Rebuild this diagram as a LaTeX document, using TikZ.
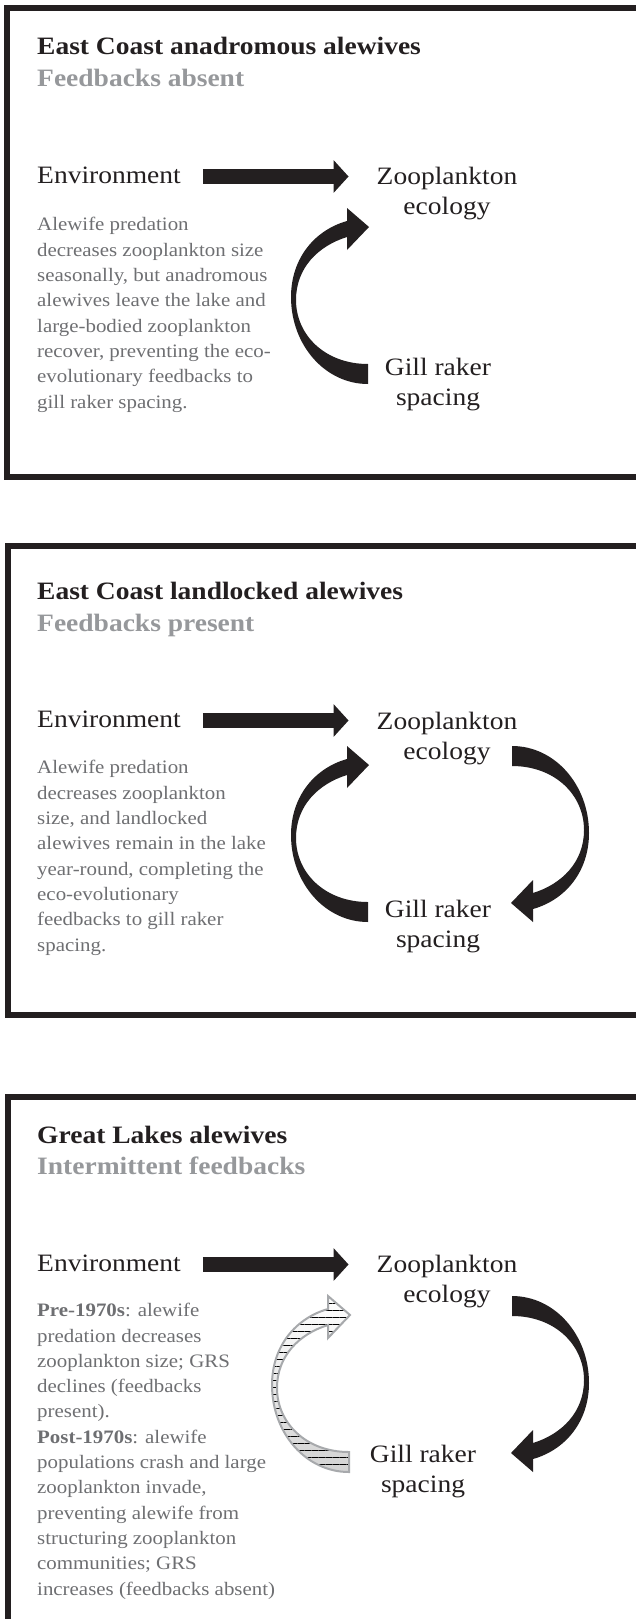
\documentclass[tikz,border=0pt]{standalone}
\usepackage{fontspec}
\setmainfont{Liberation Serif}[FakeStretch=1.1]
\usetikzlibrary{arrows.meta,patterns.meta}
\definecolor{inkblack}{RGB}{35,31,32}
\definecolor{subgray}{RGB}{150,152,155}
\definecolor{notegray}{RGB}{110,111,114}
\definecolor{rimgray}{RGB}{167,169,172}
\newcommand{\bigsz}{\fontsize{25}{30}\selectfont}
\newcommand{\notesz}{\fontsize{19}{25.3}\selectfont}
% bent block arrow, given round its own centre
\newcommand{\bentarrow}{(-72,88) .. controls (-115,88) and (-149,49) .. (-149,1)
  .. controls (-149,-38) and (-125,-66) .. (-93,-75) -- (-93,-88) -- (-71,-69)
  -- (-93,-46) -- (-93,-59) .. controls (-122,-50) and (-144,-28) .. (-144,4)
  .. controls (-144,39) and (-115,68) .. (-72,68) -- cycle}
\tikzset{
  frame/.style={draw=inkblack,line width=6pt},
  headline/.style={anchor=base west,inner sep=0pt,font=\bfseries\bigsz,text=inkblack},
  subline/.style={anchor=base west,inner sep=0pt,font=\bfseries\bigsz,text=subgray},
  term/.style={anchor=base,inner sep=0pt,align=center,font=\bigsz,text=inkblack},
  note/.style={anchor=base west,inner sep=0pt,align=left,font=\notesz,text=notegray},
  fatarrow/.style={draw=inkblack,line width=15pt,-{Triangle[length=15pt,width=32pt]},
    shorten <=22pt,shorten >=28pt},
}
\begin{document}
\begin{tikzpicture}[x=1pt,y=-1pt]
  \useasboundingbox (0,0) rectangle (635,1619);
  \fill[white] (0,0) rectangle (635,1619);

  % East Coast anadromous (multi-line nodes sit on their last baseline)
  \draw[frame] (660,8) -- (7,8) -- (7,476.5) -- (660,476.5);
  \node[headline] (title1) at (37,55) {East Coast anadromous alewives};
  \node[subline] (sub1) at (37,86) {Feedbacks absent};
  \node[term,anchor=base west] (env1) at (37,183) {Environment};
  \node[term] (zoo1) at (447,214) {Zooplankton\\ecology};
  \node[term] (gill1) at (438,405) {Gill raker\\spacing};
  \node[note] (note1) at (37,408) {Alewife predation\\decreases zooplankton size\\seasonally, but anadromous\\alewives leave the lake and\\large-bodied zooplankton\\recover, preventing the eco-\\evolutionary feedbacks to\\gill raker spacing.};
  \coordinate (m1) at ([yshift=6.5pt]env1.base east);
  \draw[fatarrow] (m1) -- (m1 -| zoo1.west);
  \begin{scope}[shift={(440,296)}]
    \fill[inkblack] \bentarrow;
  \end{scope}

  % East Coast landlocked
  \draw[frame] (660,546) -- (8,546) -- (8,1014.5) -- (660,1014.5);
  \node[headline] (title2) at (37,599) {East Coast landlocked alewives};
  \node[subline] (sub2) at (37,631) {Feedbacks present};
  \node[term,anchor=base west] (env2) at (37,727) {Environment};
  \node[term] (zoo2) at (447,759) {Zooplankton\\ecology};
  \node[term] (gill2) at (438,947) {Gill raker\\spacing};
  \node[note] (note2) at (37,951) {Alewife predation\\decreases zooplankton\\size, and landlocked\\alewives remain in the lake\\year-round, completing the\\eco-evolutionary\\feedbacks to gill raker\\spacing.};
  \coordinate (m2) at ([yshift=6.5pt]env2.base east);
  \draw[fatarrow] (m2) -- (m2 -| zoo2.west);
  \begin{scope}[shift={(440,834)}]
    \fill[inkblack] \bentarrow;
  \end{scope}
  \begin{scope}[shift={(440,834)},rotate=180]
    \fill[inkblack] \bentarrow;
  \end{scope}

  % Great Lakes
  \draw[frame] (660,1096.5) -- (7.5,1096.5) -- (7.5,1640);
  \node[headline] (title3) at (37,1143) {Great Lakes alewives};
  \node[subline] (sub3) at (37,1174) {Intermittent feedbacks};
  \node[term,anchor=base west] (env3) at (37,1271) {Environment};
  \node[term] (zoo3) at (447,1302) {Zooplankton\\ecology};
  \node[term] (gill3) at (423,1492) {Gill raker\\spacing};
  \node[note] (note3) at (37,1595) {\textbf{Pre-1970s}: alewife\\predation decreases\\zooplankton size; GRS\\declines (feedbacks\\present).\\\textbf{Post-1970s}: alewife\\populations crash and large\\zooplankton invade,\\preventing alewife from\\structuring zooplankton\\communities; GRS\\increases (feedbacks absent)};
  \coordinate (m3) at ([yshift=6.5pt]env3.base east);
  \draw[fatarrow] (m3) -- (m3 -| zoo3.west);
  \begin{scope}[shift={(421,1384)}]
    \shade[top color=white,bottom color=gray!35] \bentarrow;
    \path[pattern={Lines[angle=0,distance=7pt,line width=1pt]}] \bentarrow;
    \draw[rimgray,line width=2pt] \bentarrow;
  \end{scope}
  \begin{scope}[shift={(440,1384)},rotate=180]
    \fill[inkblack] \bentarrow;
  \end{scope}
\end{tikzpicture}
\end{document}
